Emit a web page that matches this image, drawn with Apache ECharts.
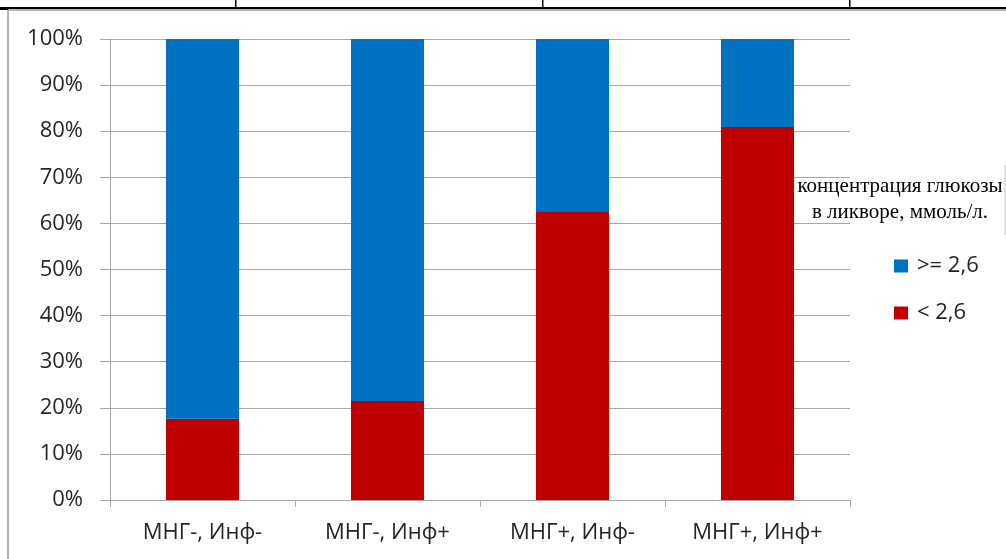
<!DOCTYPE html>
<html>
<head>
<meta charset="utf-8">
<script src="https://cdn.jsdelivr.net/npm/echarts@6/dist/echarts.min.js"></script>
<style>
  html, body { margin: 0; padding: 0; background: #fff; }
  #chart { width: 1006px; height: 559px; }
</style>
</head>
<body>
<div id="chart"></div>
<script>
// Groups: meningitis (МНГ) and infection (Инф) status
const categories = ['МНГ-, Инф-', 'МНГ-, Инф+', 'МНГ+, Инф-', 'МНГ+, Инф+'];
// Share of patients with CSF glucose below 2.6 mmol/L, %
const lowGlucose = [17.6, 21.5, 62.5, 80.9];
// Share of patients with CSF glucose of 2.6 mmol/L or more, %
const normalGlucose = [82.4, 78.5, 37.5, 19.1];
const seriesNames = ['>= 2,6', '< 2,6'];
const legendTitle = 'концентрация глюкозы\nв ликворе, ммоль/л.';

const FONT = '"Open Sans", Lato, sans-serif';
const AXIS_GRAY = '#a6a6a6';

const chart = echarts.init(document.getElementById('chart'), null, { renderer: 'canvas' });

chart.setOption({
  animation: false,
  backgroundColor: '#ffffff',
  grid: { left: 110, right: 156, top: 39, bottom: 59, containLabel: false },
  title: {
    text: legendTitle,
    left: 900,
    top: 173,
    textAlign: 'center',
    padding: 0,
    textStyle: {
      fontFamily: '"Liberation Serif", "Times New Roman", serif',
      fontSize: 21,
      fontWeight: 'normal',
      color: '#000',
      lineHeight: 26
    }
  },
  legend: {
    data: seriesNames,
    orient: 'vertical',
    left: 894,
    top: 255,
    padding: 0,
    itemWidth: 14,
    itemHeight: 13,
    itemGap: 25,
    icon: 'rect',
    textStyle: { fontFamily: FONT, fontSize: 22, color: '#262626', padding: [0, 0, 0, 4] }
  },
  xAxis: {
    type: 'category',
    data: categories,
    axisLine: { show: true, lineStyle: { color: AXIS_GRAY, width: 1 } },
    axisTick: { show: true, length: 7, alignWithLabel: false, lineStyle: { color: AXIS_GRAY } },
    axisLabel: { fontFamily: FONT, fontSize: 22, color: '#262626', margin: 22 }
  },
  yAxis: {
    type: 'value',
    min: 0,
    max: 100,
    interval: 10,
    axisLine: { show: true, lineStyle: { color: AXIS_GRAY, width: 1 } },
    axisTick: { show: true, length: 10, inside: false, lineStyle: { color: AXIS_GRAY } },
    axisLabel: { formatter: '{value}%', fontFamily: FONT, fontSize: 22, color: '#262626', margin: 27 },
    splitLine: { show: true, lineStyle: { color: AXIS_GRAY, width: 1 } }
  },
  series: [
    {
      name: seriesNames[1],
      type: 'bar',
      stack: 'share',
      data: lowGlucose,
      barWidth: '39.5%',
      itemStyle: { color: '#C00000' }
    },
    {
      name: seriesNames[0],
      type: 'bar',
      stack: 'share',
      data: normalGlucose,
      barWidth: '39.5%',
      itemStyle: { color: '#0070C0' }
    }
  ],
  graphic: [
    // surrounding table rules
    { type: 'rect', shape: { x: 0, y: 7, width: 1006, height: 2 }, style: { fill: '#000' }, silent: true },
    { type: 'rect', shape: { x: 235, y: 0, width: 1.5, height: 8 }, style: { fill: '#000' }, silent: true },
    { type: 'rect', shape: { x: 542, y: 0, width: 1.5, height: 8 }, style: { fill: '#000' }, silent: true },
    { type: 'rect', shape: { x: 849, y: 0, width: 1.5, height: 8 }, style: { fill: '#000' }, silent: true },
    // chart frame
    { type: 'line', shape: { x1: 8, y1: 10, x2: 1006, y2: 10 }, style: { stroke: '#9a9a9a', lineWidth: 1.5 }, silent: true },
    { type: 'line', shape: { x1: 8, y1: 10, x2: 8, y2: 559 }, style: { stroke: '#9a9a9a', lineWidth: 1.5 }, silent: true },
    { type: 'line', shape: { x1: 0, y1: 9.5, x2: 8, y2: 9.5 }, style: { stroke: '#000', lineWidth: 1 }, silent: true },
    { type: 'line', shape: { x1: 1005, y1: 165, x2: 1005, y2: 235 }, style: { stroke: '#c8c8c8', lineWidth: 1 }, silent: true }
  ]
});
</script>
</body>
</html>
